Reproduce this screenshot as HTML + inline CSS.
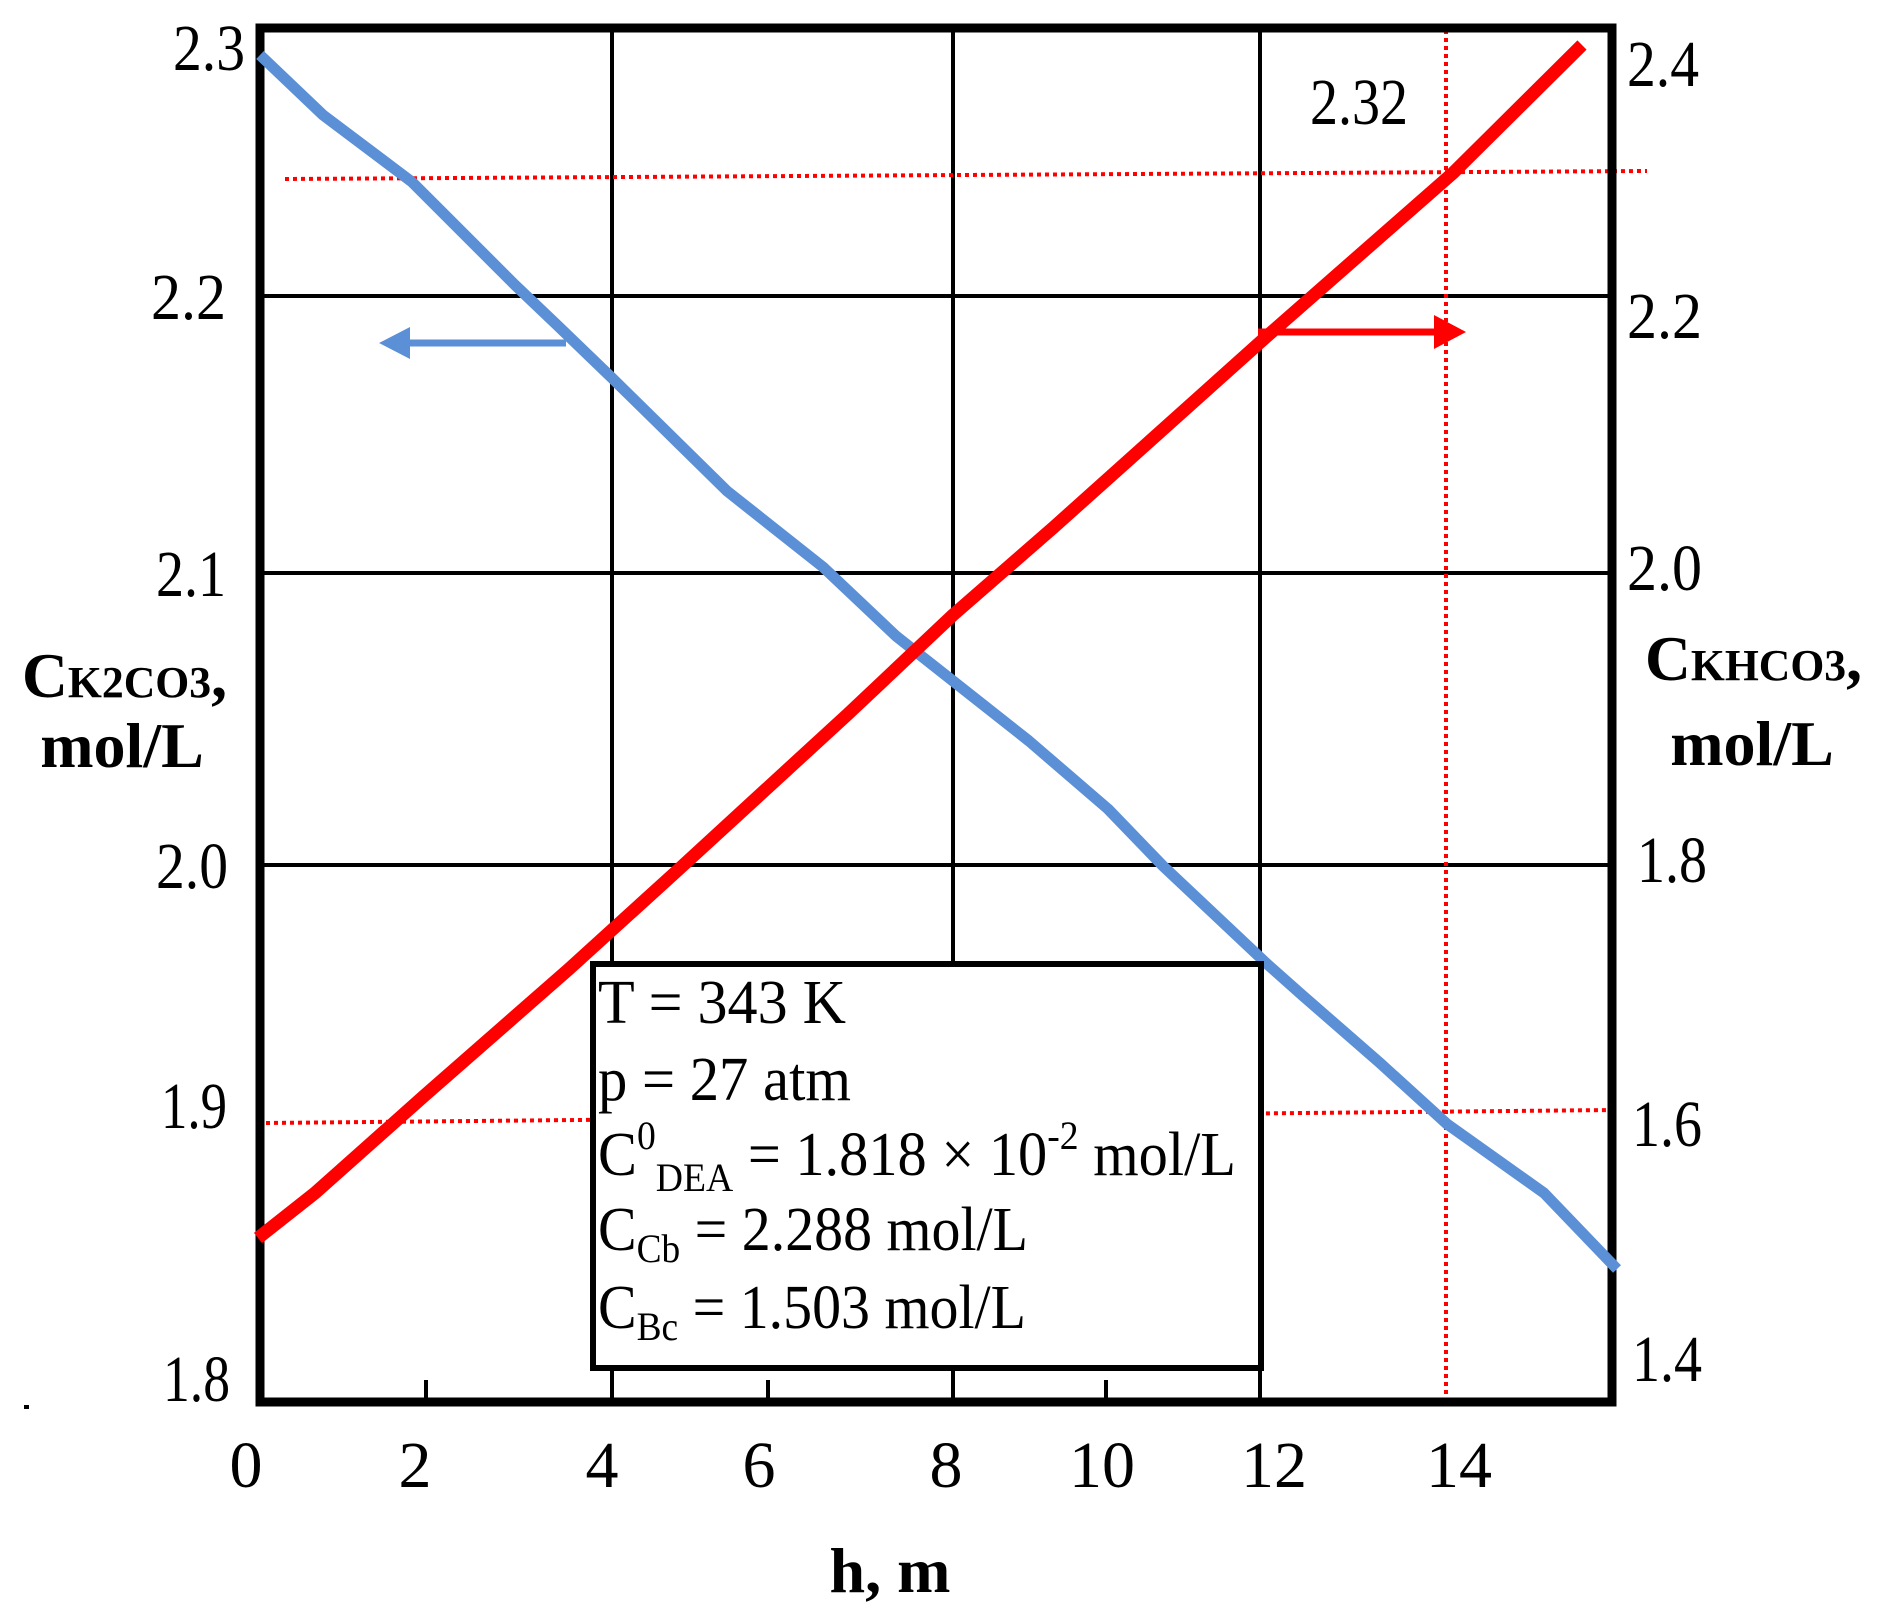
<!DOCTYPE html>
<html><head><meta charset="utf-8"><style>
html,body{margin:0;padding:0;background:#fff;}
svg{display:block;}
text{font-family:"Liberation Serif",serif;fill:#000;}
</style></head><body>
<svg width="1889" height="1613" viewBox="0 0 1889 1613" xmlns="http://www.w3.org/2000/svg">
<rect width="1889" height="1613" fill="#fff"/>
<g stroke="#000" stroke-width="4">
<line x1="612" y1="28" x2="612" y2="1402"/>
<line x1="953" y1="28" x2="953" y2="1402"/>
<line x1="1260" y1="28" x2="1260" y2="1402"/>
<line x1="260" y1="296" x2="1612" y2="296"/>
<line x1="260" y1="573" x2="1612" y2="573"/>
<line x1="260" y1="865" x2="1612" y2="865"/>
<line x1="426" y1="1380" x2="426" y2="1402"/>
<line x1="768" y1="1380" x2="768" y2="1402"/>
<line x1="1106" y1="1380" x2="1106" y2="1402"/>
</g>
<g stroke="#f00" stroke-width="4" stroke-dasharray="4 4" fill="none">
<line x1="285" y1="179" x2="1647" y2="171"/>
<line x1="266" y1="1123" x2="1614" y2="1110"/>
<line x1="1446" y1="30" x2="1446" y2="1400"/>
</g>
<rect x="260" y="28" width="1352" height="1374" fill="none" stroke="#000" stroke-width="9"/>
<polyline fill="none" stroke="#5b8fd6" stroke-width="11" stroke-linejoin="round" points="260,55 323,115 412,182 515,285 557,325 612,378 727,491 823,567 896,636 953,681 1029,741 1108,809 1163,866 1266,963 1302,995 1380,1063 1447,1124 1544,1193 1617,1269"/>
<polyline fill="none" stroke="#f00" stroke-width="13" stroke-linejoin="round" points="258,1238 315,1193 424,1096 569,969 678,870 848,714 953,615 1054,527 1266,337 1453,173 1582,45"/>
<line x1="566" y1="343" x2="400" y2="343" stroke="#5b8fd6" stroke-width="7"/>
<polygon points="379,343 410,327 410,359" fill="#5b8fd6"/>
<line x1="1258" y1="332" x2="1440" y2="332" stroke="#f00" stroke-width="7"/>
<polygon points="1466,332 1434,315 1434,349" fill="#f00"/>
<rect x="593" y="964" width="668" height="404" fill="#fff" stroke="#000" stroke-width="6"/>
<g font-size="62">
<text x="598" y="1023" textLength="248" lengthAdjust="spacingAndGlyphs">T = 343 K</text>
<text x="598" y="1100" textLength="253" lengthAdjust="spacingAndGlyphs">p = 27 atm</text>
<text x="598" y="1175" textLength="638" lengthAdjust="spacingAndGlyphs">C<tspan font-size="40" dy="-26">0</tspan><tspan font-size="40" dy="42">DEA</tspan><tspan dy="-16"> = 1.818 × 10</tspan><tspan font-size="40" dy="-26">-2</tspan><tspan dy="26"> mol/L</tspan></text>
<text x="598" y="1250" textLength="430" lengthAdjust="spacingAndGlyphs">C<tspan font-size="40" dy="12">Cb</tspan><tspan dy="-12"> = 2.288 mol/L</tspan></text>
<text x="598" y="1328" textLength="428" lengthAdjust="spacingAndGlyphs">C<tspan font-size="40" dy="12">Bc</tspan><tspan dy="-12"> = 1.503 mol/L</tspan></text>
</g>
<g font-size="66" lengthAdjust="spacingAndGlyphs">
<text x="173" y="70" textLength="72" lengthAdjust="spacingAndGlyphs">2.3</text>
<text x="151" y="319" textLength="75" lengthAdjust="spacingAndGlyphs">2.2</text>
<text x="156" y="596" textLength="70" lengthAdjust="spacingAndGlyphs">2.1</text>
<text x="156" y="888" textLength="72" lengthAdjust="spacingAndGlyphs">2.0</text>
<text x="161" y="1128" textLength="66" lengthAdjust="spacingAndGlyphs">1.9</text>
<text x="163" y="1401" textLength="67" lengthAdjust="spacingAndGlyphs">1.8</text>
</g>
<rect x="24" y="1405" width="5" height="4" fill="#000"/>
<g font-size="66">
<text x="1627" y="86" textLength="72" lengthAdjust="spacingAndGlyphs">2.4</text>
<text x="1627" y="338" textLength="75" lengthAdjust="spacingAndGlyphs">2.2</text>
<text x="1627" y="590" textLength="75" lengthAdjust="spacingAndGlyphs">2.0</text>
<text x="1637" y="882" textLength="70" lengthAdjust="spacingAndGlyphs">1.8</text>
<text x="1632" y="1146" textLength="70" lengthAdjust="spacingAndGlyphs">1.6</text>
<text x="1632" y="1381" textLength="70" lengthAdjust="spacingAndGlyphs">1.4</text>
<text x="1310" y="124" textLength="98" lengthAdjust="spacingAndGlyphs">2.32</text>
</g>
<g font-size="66" text-anchor="middle">
<text x="246" y="1487">0</text>
<text x="415" y="1487">2</text>
<text x="602" y="1487">4</text>
<text x="759" y="1487">6</text>
<text x="946" y="1487">8</text>
<text x="1102" y="1487">10</text>
<text x="1274" y="1487">12</text>
<text x="1459" y="1487">14</text>
</g>
<g font-weight="bold" font-size="64">
<text x="890" y="1592" text-anchor="middle">h, m</text>
<text x="22" y="697" textLength="205" lengthAdjust="spacingAndGlyphs">C<tspan font-size="44">K2CO3</tspan>,</text>
<text x="122" y="767" text-anchor="middle">mol/L</text>
<text x="1645" y="680" textLength="217" lengthAdjust="spacingAndGlyphs">C<tspan font-size="44">KHCO3</tspan>,</text>
<text x="1752" y="765" text-anchor="middle">mol/L</text>
</g>
</svg>
</body></html>
